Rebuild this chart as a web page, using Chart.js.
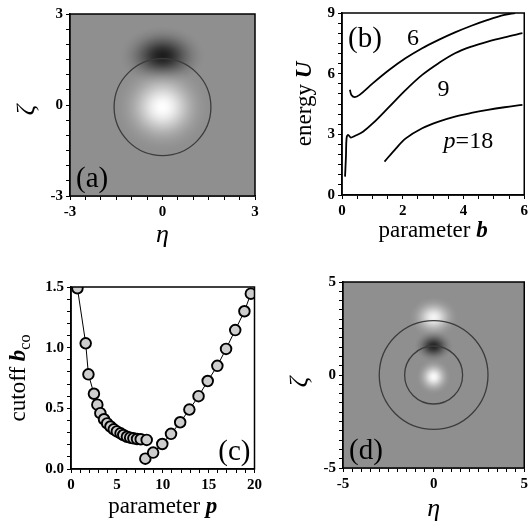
<!DOCTYPE html>
<html>
<head>
<meta charset="utf-8">
<script src="https://cdn.jsdelivr.net/npm/chart.js@4.4.1/dist/chart.umd.min.js"></script>
<style>
  body { margin: 0; background: #fff; width: 531px; height: 529px; position: relative; overflow: hidden; }
  canvas { position: absolute; }
</style>
</head>
<body>
<canvas id="pa" width="265" height="265" style="left:0;top:0"></canvas>
<canvas id="pb" width="266" height="265" style="left:265px;top:0"></canvas>
<canvas id="pc" width="265" height="264" style="left:0;top:265px"></canvas>
<canvas id="pd" width="266" height="264" style="left:265px;top:265px"></canvas>
<script>
// ---- panel (a): density blobs in the (eta, zeta) plane ----
const blobA_eta = [0, 0];
const blobA_zeta = [1.62, -0.07];
const blobA_rEta = [1.4, 1.5];
const blobA_rZeta = [1.0, 1.45];
const blobA_level = [-0.8, 1.0];   // <0 dark, >0 bright
const ringA = [1.57];
const ringA_zeta = -0.07;
const ticksA = [-3, 0, 3];

// ---- panel (b): energy U vs parameter b ----
const b_p6 = [0.26, 0.31, 0.42, 0.58, 1.02, 1.56, 2.1, 2.64, 3.18, 3.72, 4.26, 4.8, 5.35, 5.7];
const U_p6 = [5.2, 4.95, 4.84, 4.95, 5.53, 6.19, 6.77, 7.26, 7.67, 8.04, 8.37, 8.66, 8.91, 9.0];
const b_p9 = [0.10, 0.13, 0.15, 0.2, 0.29, 0.42, 0.69, 1.02, 1.56, 2.1, 2.64, 3.18, 3.72, 4.26, 4.8, 5.35, 5.94];
const U_p9 = [0.91, 1.9, 2.8, 2.97, 2.84, 2.92, 3.13, 3.55, 4.37, 5.2, 5.94, 6.52, 7.01, 7.34, 7.59, 7.8, 8.0];
const b_p18 = [1.4, 1.78, 2.1, 2.64, 3.18, 3.72, 4.26, 4.8, 5.35, 5.94];
const U_p18 = [1.65, 2.31, 2.8, 3.3, 3.63, 3.88, 4.06, 4.21, 4.34, 4.46];
const curveLabels = ['6', '9', 'p=18'];
const curveLabelB = [2.34, 3.34, 4.16];
const curveLabelU = [7.82, 5.3, 2.72];
const ticksB_x = [0, 2, 4, 6];
const ticksB_y = [0, 3, 6, 9];

// ---- panel (c): cutoff b_co vs parameter p ----
const pLow = [0.7, 1.6, 1.9, 2.5, 2.87, 3.2, 3.6, 3.94, 4.3, 4.66, 5.0, 5.4, 5.7, 6.1, 6.45, 6.8, 7.2, 7.6, 8.25];
const bcoLow = [1.49, 1.036, 0.78, 0.62, 0.53, 0.46, 0.41, 0.376, 0.35, 0.327, 0.31, 0.294, 0.28, 0.266, 0.258, 0.253, 0.247, 0.245, 0.24];
const pHigh = [8.1, 8.95, 9.95, 10.9, 11.9, 12.9, 13.9, 14.9, 15.95, 16.9, 17.9, 18.9, 19.6];
const bcoHigh = [0.085, 0.135, 0.206, 0.29, 0.385, 0.49, 0.60, 0.725, 0.85, 0.99, 1.145, 1.30, 1.445];
const ticksC_x = [0, 5, 10, 15, 20];
const ticksC_y = [0, 0.5, 1.0, 1.5];

// ---- panel (d): density blobs ----
const blobD_eta = [0, 0, 0];
const blobD_zeta = [3.1, 1.55, -0.1];
const blobD_rEta = [1.35, 1.1, 0.95];
const blobD_rZeta = [1.1, 0.85, 0.95];
const blobD_level = [0.9, -0.75, 0.95];
const ringD = [3.0, 1.6];
const ringD_zeta = 0;
const ticksD = [-5, 0, 5];

const SERIF = 'Liberation Serif';

// heat map + rings, positioned through the chart scales
const mapPlugin = {
  id: 'map',
  beforeDatasetsDraw(chart, args, o) {
    if (!o.eta) return;
    const { ctx, chartArea: a, scales: { x, y } } = chart;
    const pxX = Math.abs(x.getPixelForValue(1) - x.getPixelForValue(0));
    const pxY = Math.abs(y.getPixelForValue(1) - y.getPixelForValue(0));
    ctx.save();
    ctx.beginPath(); ctx.rect(a.left, a.top, a.width, a.height); ctx.clip();
    ctx.fillStyle = '#8f8f8f';
    ctx.fillRect(a.left, a.top, a.width, a.height);
    o.eta.forEach((e, i) => {
      const rgb = o.level[i] > 0 ? '255,255,255' : '0,0,0';
      const amp = Math.abs(o.level[i]);
      ctx.save();
      ctx.translate(x.getPixelForValue(e), y.getPixelForValue(o.zeta[i]));
      ctx.scale(o.rEta[i] * pxX, o.rZeta[i] * pxY);
      const g = ctx.createRadialGradient(0, 0, 0, 0, 0, 1);
      for (let k = 0; k <= 12; k++) {
        const t = k / 12;
        g.addColorStop(t, `rgba(${rgb},${(amp * Math.exp(-3.5 * t * t) * (1 - Math.pow(t, 6))).toFixed(3)})`);
      }
      ctx.fillStyle = g;
      ctx.beginPath(); ctx.arc(0, 0, 1, 0, Math.PI * 2); ctx.fill();
      ctx.restore();
    });
    ctx.strokeStyle = '#3c3c3c';
    ctx.lineWidth = 1.3;
    o.rings.forEach(r => {
      ctx.beginPath();
      ctx.arc(x.getPixelForValue(0), y.getPixelForValue(o.ringZeta), r * pxX, 0, Math.PI * 2);
      ctx.stroke();
    });
    ctx.restore();
  }
};

// draws a title made of font segments, centred at (cx, cy)
function drawRich(ctx, segs, cx, cy, rot) {
  ctx.save();
  ctx.translate(cx, cy);
  if (rot) ctx.rotate(-Math.PI / 2);
  ctx.textBaseline = 'alphabetic';
  ctx.textAlign = 'left';
  ctx.fillStyle = '#000';
  let w = 0;
  segs.forEach(s => { ctx.font = s.f; w += ctx.measureText(s.t).width; });
  let xx = -w / 2;
  segs.forEach(s => {
    ctx.font = s.f;
    ctx.fillText(s.t, xx, s.dy || 0);
    xx += ctx.measureText(s.t).width;
  });
  ctx.restore();
}

const textPlugin = {
  id: 'texts',
  afterDraw(chart, args, o) {
    const { ctx, chartArea: a, scales: { x, y } } = chart;
    ctx.save();
    ctx.strokeStyle = '#000';
    ctx.lineWidth = 1.5;
    ctx.strokeRect(a.left, a.top, a.width, a.height);
    const midX = (a.left + a.right) / 2, midY = (a.top + a.bottom) / 2;
    drawRich(ctx, o.xTitle, midX, a.bottom + o.xOff, false);
    drawRich(ctx, o.yTitle, a.left - o.yOff, midY + (o.yShift || 0), true);
    ctx.font = `29px "${SERIF}"`;
    ctx.fillStyle = '#000';
    ctx.textBaseline = 'alphabetic';
    ctx.textAlign = o.panelAlign || 'left';
    ctx.fillText(o.panel, o.panelAlign === 'right' ? a.right - 4 : a.left + 6, o.panelTop ? a.top + 34 : a.bottom - 9);
    (o.notes || []).forEach(nt => {
      drawRich(ctx, nt.segs, x.getPixelForValue(nt.x), y.getPixelForValue(nt.y) + 8, false);
    });
    ctx.restore();
  }
};

function axis(min, max, step, major, size, fmt) {
  return {
    type: 'linear', min, max,
    afterFit(s) { if (s.isHorizontal()) s.height = size; else s.width = size; },
    afterBuildTicks(s) {
      const list = [];
      for (let v = min; v <= max + 1e-9; v += step) list.push({ value: Math.round(v * 1000) / 1000 });
      s.ticks = list;
    },
    ticks: {
      autoSkip: false, maxRotation: 0, padding: 3, color: '#000',
      font: { family: SERIF, size: 15, weight: 'bold' },
      callback: v => (major.some(m => Math.abs(m - v) < 1e-6) ? fmt(v) : '')
    },
    grid: { drawOnChartArea: false, tickLength: 4, color: '#000', lineWidth: 1 },
    border: { display: true, color: '#000', width: 1.5 }
  };
}

function makeChart(id, datasets, scales, padding, plugOpts) {
  return new Chart(document.getElementById(id), {
    type: 'scatter',
    data: { datasets },
    options: {
      responsive: false, animation: false, devicePixelRatio: 1,
      layout: { padding, autoPadding: false },
      plugins: Object.assign({ legend: { display: false }, tooltip: { enabled: false } }, plugOpts),
      scales
    },
    plugins: [mapPlugin, textPlugin]
  });
}

const fTitle = `23px "${SERIF}"`;
const fBoldItal = `bold italic 23px "${SERIF}"`;
const fGreek = `italic 26px "${SERIF}"`;
const intFmt = v => String(v);

// (a)
makeChart('pa', [{ data: [] }], {
  x: axis(-3, 3, 0.5, ticksA, 69, intFmt),
  y: axis(-3, 3, 0.5, ticksA, 70, intFmt)
}, { left: 0, top: 14, right: 10, bottom: 0 }, {
  map: { eta: blobA_eta, zeta: blobA_zeta, rEta: blobA_rEta, rZeta: blobA_rZeta, level: blobA_level, rings: ringA, ringZeta: ringA_zeta },
  texts: {
    xTitle: [{ t: 'η', f: fGreek }], xOff: 46,
    yTitle: [{ t: 'ζ', f: fGreek }], yOff: 36, yShift: 5,
    panel: '(a)'
  }
});

// (b)
const lineStyle = { showLine: true, borderColor: '#000', borderWidth: 1.8, pointRadius: 0, tension: 0.35, clip: 0 };
makeChart('pb', [
  Object.assign({ data: b_p6.map((b, i) => ({ x: b, y: U_p6[i] })) }, lineStyle),
  Object.assign({ data: b_p9.map((b, i) => ({ x: b, y: U_p9[i] })) }, lineStyle),
  Object.assign({ data: b_p18.map((b, i) => ({ x: b, y: U_p18[i] })) }, lineStyle)
], {
  x: axis(0, 6, 0.5, ticksB_x, 70, intFmt),
  y: axis(0, 9, 0.5, ticksB_y, 77, intFmt)
}, { left: 0, top: 13, right: 4, bottom: 0 }, {
  texts: {
    xTitle: [{ t: 'parameter ', f: fTitle }, { t: 'b', f: fBoldItal }], xOff: 42,
    yTitle: [{ t: 'energy ', f: fTitle }, { t: 'U', f: fBoldItal }], yOff: 31,
    panel: '(b)', panelTop: true,
    notes: curveLabels.map((t, i) => ({
      x: curveLabelB[i], y: curveLabelU[i],
      segs: t.startsWith('p=')
        ? [{ t: 'p', f: `italic 24px "${SERIF}"` }, { t: t.slice(1), f: `24px "${SERIF}"` }]
        : [{ t, f: `24px "${SERIF}"` }]
    }))
  }
});

// (c)
const dotStyle = {
  showLine: true, borderColor: '#000', borderWidth: 1, pointRadius: 5.3,
  pointBackgroundColor: '#cdcdcd', pointBorderColor: '#000', pointBorderWidth: 1.9, clip: 0
};
makeChart('pc', [
  Object.assign({ data: pLow.map((p, i) => ({ x: p, y: bcoLow[i] })) }, dotStyle),
  Object.assign({ data: pHigh.map((p, i) => ({ x: p, y: bcoHigh[i] })) }, dotStyle)
], {
  x: axis(0, 20, 1, ticksC_x, 60, intFmt),
  y: axis(0, 1.5, 0.1, ticksC_y, 71, v => v.toFixed(1))
}, { left: 0, top: 22, right: 8, bottom: 0 }, {
  texts: {
    xTitle: [{ t: 'parameter ', f: fTitle }, { t: 'p', f: fBoldItal }], xOff: 44,
    yTitle: [{ t: 'cutoff ', f: fTitle }, { t: 'b', f: fBoldItal }, { t: 'co', f: `16px "${SERIF}"`, dy: 5 }], yOff: 46,
    panel: '(c)', panelAlign: 'right'
  }
});

// (d)
makeChart('pd', [{ data: [] }], {
  x: axis(-5, 5, 0.5, ticksD, 61, intFmt),
  y: axis(-5, 5, 0.5, ticksD, 78, intFmt)
}, { left: 0, top: 17, right: 1, bottom: 0 }, {
  map: { eta: blobD_eta, zeta: blobD_zeta, rEta: blobD_rEta, rZeta: blobD_rZeta, level: blobD_level, rings: ringD, ringZeta: ringD_zeta },
  texts: {
    xTitle: [{ t: 'η', f: fGreek }], xOff: 48,
    yTitle: [{ t: 'ζ', f: fGreek }], yOff: 36, yShift: 7,
    panel: '(d)'
  }
});
</script>
</body>
</html>
